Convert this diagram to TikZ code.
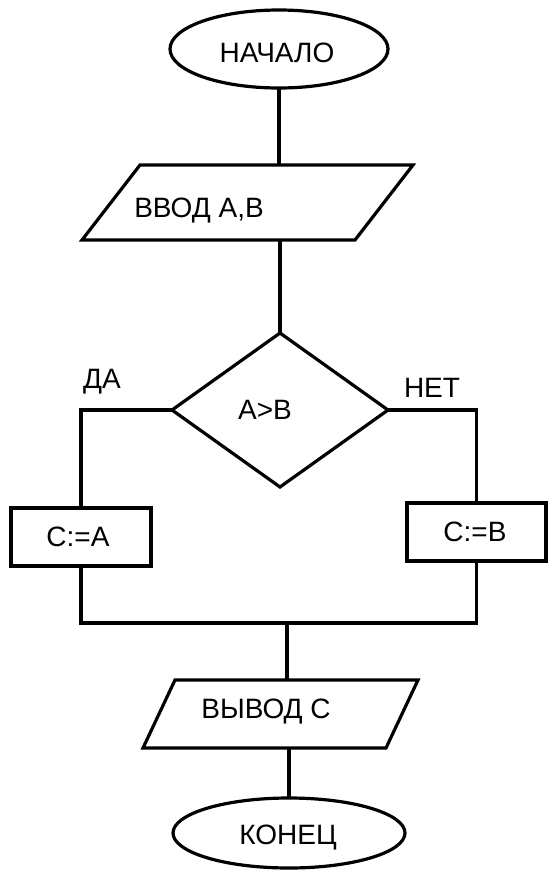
\documentclass[tikz,border=0pt]{standalone}
\usepackage{fontspec}
\setmainfont{Liberation Sans}
\usetikzlibrary{shapes.geometric}
\begin{document}
\begin{tikzpicture}[x=1pt,y=-1pt,
  txt/.style={font=\fontsize{28}{32}\selectfont, inner sep=0pt},
  shapeline/.style={draw=black, line width=3.2pt, outer sep=0pt, inner sep=0pt},
  terminal/.style={shapeline, ellipse},
  frame/.style={inner sep=0pt, outer sep=0pt},
  para/.style={draw=black, line width=3.2pt, line join=miter},
  decision/.style={shapeline, diamond},
  process/.style={shapeline, rectangle},
  flow/.style={draw=black, line width=3.2pt}]
\useasboundingbox (0,0) rectangle (547,876);

% start
\node[terminal, minimum width=218pt, minimum height=78pt] (start) at (279,49) {};
\node[txt] (startT) at (277,53) {НАЧАЛО};

% input: parallelogram slanted by 58pt inside its frame
\node[frame, minimum width=331pt, minimum height=75pt] (in) at (247.5,202.5) {};
\draw[para] ([xshift=58pt]in.north west) -- (in.north east)
  -- ([xshift=-58pt]in.south east) -- (in.south west) -- cycle;
\node[txt] (inT) at (199,211) {ВВОД А,В};

% condition
\node[decision, minimum width=216pt, minimum height=154pt] (dec) at (280,410) {};
\node[txt] (decT) at (265,410) {А>В};

\node[txt] (yes) at (102,382) {ДА};
\node[txt] (no) at (432,388) {НЕТ};

% branches
\node[process, minimum width=140pt, minimum height=58pt] (ca) at (81,537) {};
\node[txt] (caT) at (78,537) {С:=А};

\node[process, minimum width=139pt, minimum height=58pt] (cb) at (476.5,532) {};
\node[txt] (cbT) at (475,532) {С:=В};

\coordinate (join) at (287,623);

% output: parallelogram slanted by 32pt
\node[frame, minimum width=275pt, minimum height=68pt] (out) at (280.5,714) {};
\draw[para] ([xshift=32pt]out.north west) -- (out.north east)
  -- ([xshift=-32pt]out.south east) -- (out.south west) -- cycle;
\node[txt] (outT) at (266,712) {ВЫВОД С};

% end
\node[terminal, minimum width=232pt, minimum height=70pt] (end) at (289,833) {};
\node[txt] (endT) at (288,838) {КОНЕЦ};

% connectors
\draw[flow] (start.south) -- (start.south |- in.north);
\draw[flow] (dec.north |- in.south) -- (dec.north);
\draw[flow] (dec.west) -| (ca.north);
\draw[flow] (dec.east) -| (cb.north);
\draw[flow] (ca.south) |- (join) -| (cb.south);
\draw[flow] (join) -- (join |- out.north);
\draw[flow] (end.north |- out.south) -- (end.north);
\end{tikzpicture}
\end{document}
